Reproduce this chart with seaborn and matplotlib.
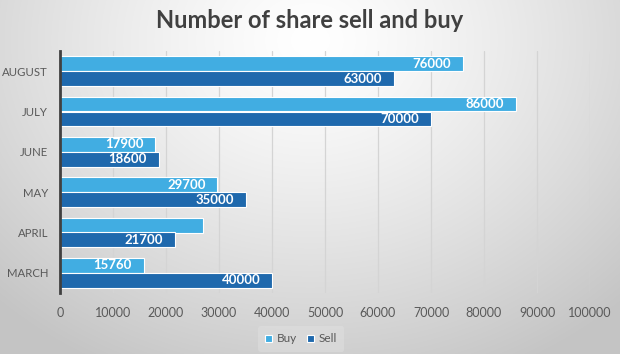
import numpy as np
import pandas as pd
import matplotlib
matplotlib.use("Agg")
import matplotlib.pyplot as plt
import seaborn as sns

months = ["AUGUST", "JULY", "JUNE", "MAY", "APRIL", "MARCH"]
buy = [76000, 86000, 17900, 29700, 27000, 15760]
sell = [63000, 70000, 18600, 35000, 21700, 40000]
buy_labels = ["76000", "86000", "17900", "29700", "", "15760"]
sell_labels = ["63000", "70000", "18600", "35000", "21700", "40000"]
xticks = list(range(0, 100001, 10000))

sns.set_theme(style="white")
plt.rcParams['font.family'] = ['Lato', 'DejaVu Sans']

df = pd.DataFrame({
    "Month": months * 2,
    "Value": buy + sell,
    "Type": ["Buy"] * len(months) + ["Sell"] * len(months),
})

fig = plt.figure(figsize=(6.2, 3.54), dpi=100)

# background gradient
bg = fig.add_axes([0, 0, 1, 1], zorder=-10)
yy, xx = np.mgrid[0:354, 0:620]
d = np.sqrt(((xx - 310) / 400.0) ** 2 + ((yy - 40) / 330.0) ** 2)
val = np.clip(1.0 - 0.2 * d ** 1.3, 0.77, 1.0)
img = np.dstack([val, val, val])
bg.imshow(img, aspect="auto", extent=[0, 1, 0, 1])
bg.axis("off")

ax = fig.add_axes([60 / 620, 1 - 293 / 354, 530 / 620, 242 / 354])
ax.patch.set_alpha(0)
palette = {"Buy": "#41ADE2", "Sell": "#1F69AD"}
sns.barplot(data=df, x="Value", y="Month", hue="Type", order=months,
            hue_order=["Buy", "Sell"], palette=palette, orient="h",
            width=0.74, edgecolor="white", linewidth=0.8, saturation=1,
            ax=ax, legend=True)

for cont, labs in zip(ax.containers, [buy_labels, sell_labels]):
    for bar, lab in zip(cont, labs):
        if not lab:
            continue
        x = bar.get_width()
        y = bar.get_y() + bar.get_height() / 2
        ax.text(x - 2200, y, lab, ha="right", va="center", color="white",
                fontsize=9.5, fontweight="bold")

ax.set_xlim(0, 100000)
ax.set_ylim(5.5, -0.5)
ax.set_xticks(xticks)
ax.set_xticklabels([str(t) for t in xticks], fontsize=9, color="#595959")
ax.tick_params(axis="x", length=4, color="#BFBFBF", pad=6)
ax.tick_params(axis="y", length=0, labelsize=8.2, labelcolor="#595959", pad=8.5)
ax.set_xlabel("")
ax.set_ylabel("")
ax.grid(axis="x", color="#D4D4D4", linewidth=0.9)
ax.set_axisbelow(True)
for s in ["top", "right", "bottom"]:
    ax.spines[s].set_visible(False)
ax.spines["left"].set_color("#404040")
ax.spines["left"].set_linewidth(2)

leg = ax.legend(loc="center", bbox_to_anchor=(0.455, -0.19), ncol=2, frameon=True,
                fontsize=8.5, handlelength=0.6, handleheight=0.6, handletextpad=0.4,
                columnspacing=0.8, borderpad=0.6)
leg.get_frame().set_facecolor("#E0E0E0")
leg.get_frame().set_alpha(0.5)
leg.get_frame().set_edgecolor("none")
for t in leg.get_texts():
    t.set_color("#595959")

fig.text(0.5, 1 - 20 / 354, "Number of share sell and buy", ha="center", va="center",
         fontsize=17, fontweight="bold", color="#404040")

fig.savefig("out.png", dpi=100)
